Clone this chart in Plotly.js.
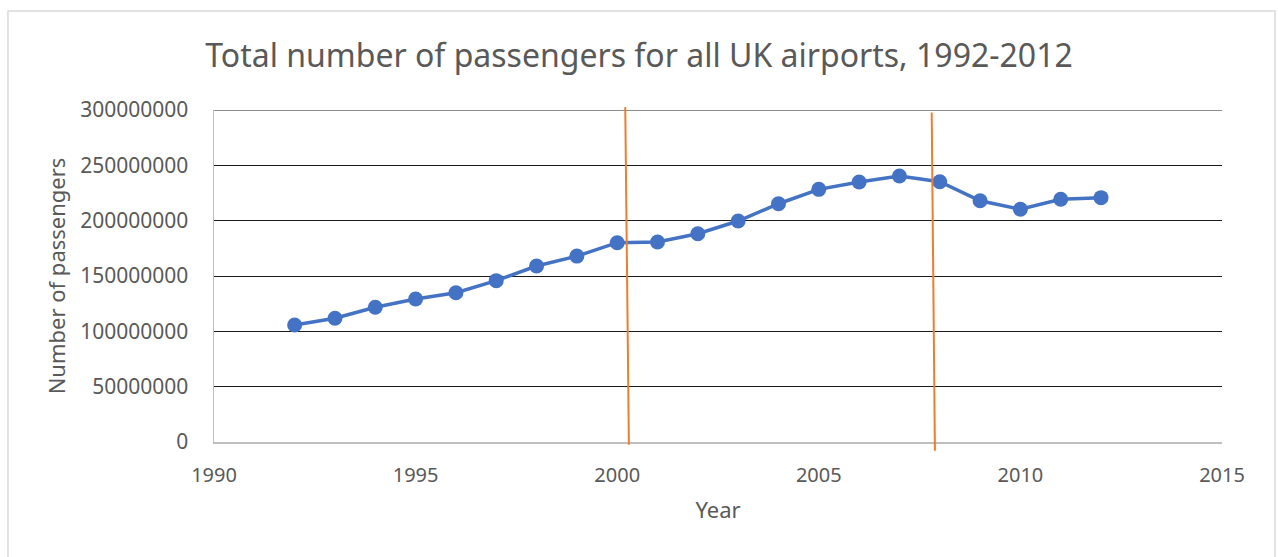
<!DOCTYPE html>
<html>
<head>
<meta charset="utf-8">
<script src="https://cdn.plot.ly/plotly-3.0.1.min.js"></script>
<style>
html,body{margin:0;padding:0;background:#fff;}
#chart{width:1278px;height:557px;}
</style>
</head>
<body>
<div id="chart"></div>
<script>
const years = [1992,1993,1994,1995,1996,1997,1998,1999,2000,2001,2002,2003,2004,2005,2006,2007,2008,2009,2010,2011,2012];
const passengers = [105700000,111800000,121700000,129200000,134900000,145800000,159000000,168000000,180100000,180700000,188200000,199700000,215300000,228300000,234900000,240400000,235200000,218000000,210300000,219300000,220800000];

// hand-drawn orange marker lines: [x start, x end], [y start, y end]
const markerLine1X = [2000.2, 2000.29];
const markerLine1Y = [302600000, -2500000];
const markerLine2X = [2007.8, 2007.88];
const markerLine2Y = [297800000, -8000000];

const yMin = 0, yMax = 300000000;
const xTicks = [1990,1995,2000,2005,2010,2015];
const yTicks = [0,50000000,100000000,150000000,200000000,250000000,300000000];

const font = '"Noto Sans", "Open Sans", sans-serif';
const toPaper = v => (v - yMin) / (yMax - yMin);

function orangeShape(xs, ys){
  return {type:'line', xref:'x', yref:'paper',
    x0: xs[0], x1: xs[1], y0: toPaper(ys[0]), y1: toPaper(ys[1]),
    line:{color:'#ED7D31', width:2}, layer:'above'};
}

const trace = {
  x: years, y: passengers, type:'scatter', mode:'lines+markers',
  line:{color:'#4472C4', width:3.5},
  marker:{color:'#4472C4', size:15},
  cliponaxis:false, hoverinfo:'x+y'
};

const layout = {
  width:1278, height:557,
  paper_bgcolor:'#fff', plot_bgcolor:'#fff',
  margin:{l:214, r:56, t:110, b:115},
  showlegend:false,
  title:{text:'Total number of passengers for all UK airports, 1992-2012',
    font:{family:font, size:32, color:'#595959'}, x:0.5, xanchor:'center', y:0.9, yanchor:'middle'},
  xaxis:{range:[1990,2015], tickvals:xTicks, ticktext:xTicks.map(String),
    showgrid:false, zeroline:false, showline:true, linecolor:'#bfbfbf', linewidth:1.5,
    ticks:'', tickfont:{family:font, size:20, color:'#595959'}, ticklabelstandoff:14,
    title:{text:'Year', font:{family:font, size:22, color:'#595959'}, standoff:16}},
  yaxis:{range:[yMin,yMax], tickvals:yTicks, ticktext:yTicks.map(String),
    showgrid:true, gridcolor:'#1a1a1a', gridwidth:1, zeroline:false,
    showline:true, linecolor:'#bfbfbf', linewidth:1.5, ticks:'',
    tickfont:{family:font, size:21, color:'#595959'}, ticklabelstandoff:20,
    title:{text:'Number of passengers', font:{family:font, size:22, color:'#595959'}, standoff:8}},
  shapes:[
    {type:'rect', xref:'paper', yref:'paper', x0:-0.2044, x1:1.0526, y0:-0.4, y1:1.298,
      line:{color:'#d9d9d9', width:1.5}, fillcolor:'rgba(0,0,0,0)', layer:'below'},
    {type:'line', xref:'paper', yref:'y', x0:0, x1:1, y0:yMax, y1:yMax,
      line:{color:'#1a1a1a', width:1}, layer:'below'},
    orangeShape(markerLine1X, markerLine1Y),
    orangeShape(markerLine2X, markerLine2Y)
  ]
};

Plotly.newPlot('chart', [trace], layout, {staticPlot:true, displayModeBar:false});
</script>
</body>
</html>
